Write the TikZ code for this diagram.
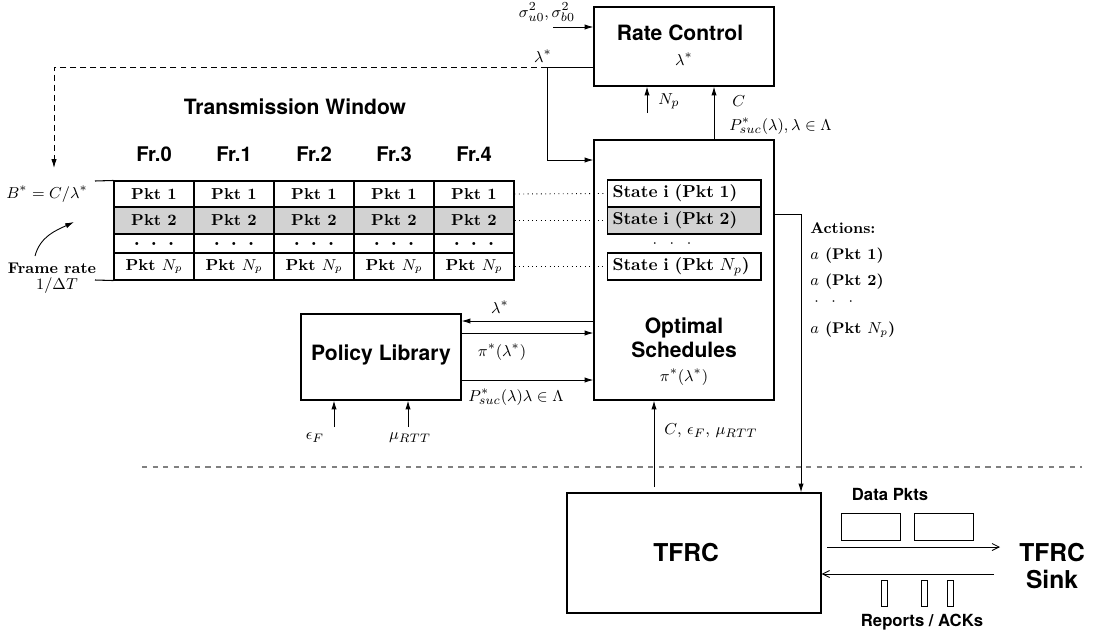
\documentclass[tikz,border=0pt]{standalone}
\usepackage{fontspec}
\newfontfamily\hvfont{TeX Gyre Heros}
\usetikzlibrary{arrows.meta}
\tikzset{
  blk/.style={draw,line width=0.7pt,inner sep=0pt},
  ttl/.style={font=\hvfont\bfseries\fontsize{12}{13.5}\selectfont},
  big/.style={font=\hvfont\bfseries\fontsize{14}{15.5}\selectfont},
  sml/.style={font=\hvfont\bfseries\fontsize{9.5}{11}\selectfont},
  cell/.style={draw,line width=0.6pt,minimum width=1.6cm,inner sep=0pt,font=\bfseries\fontsize{9}{10}\selectfont},
  stbox/.style={draw,line width=0.6pt,text width=2.86cm,inner xsep=0.11cm,inner ysep=0pt,minimum height=0.54cm,align=left,font=\bfseries\fontsize{9.8}{11}\selectfont},
  act/.style={anchor=west,font=\bfseries\fontsize{8.8}{10}\selectfont},
  dpkt/.style={draw,line width=0.5pt,minimum width=1.18cm,minimum height=0.54cm,inner sep=0pt},
  ack/.style={draw,line width=0.5pt,minimum width=0.12cm,minimum height=0.52cm,inner sep=0pt},
  data/.style={-{Straight Barb[length=4pt,width=4pt]},line width=0.5pt}
}
\begin{document}
\begin{tikzpicture}[x=0.02cm,y=-0.02cm,>={Latex[length=5pt,width=3pt]},line width=0.5pt,
  every node/.style={font=\fontsize{9.5}{11}\selectfont}]
\useasboundingbox (0,0) rectangle (1097,639);
% rate control block
\node[blk,minimum width=3.6cm,minimum height=1.58cm] (RC) at (684,46.5) {};
\node[ttl] (RCt) at (680,33) {Rate Control};
\node (RCl) at (684,59) {$\lambda^*$};
\coordinate (sg) at (553,27);
\node (sgl) at (547,12) {$\sigma^2_{u0},\sigma^2_{b0}$};
\draw[->] (sg) -- (sg -| RC.west);
\coordinate (lsp) at (547,67);
\node (lsl) at (543,56) {$\lambda^*$};
\coordinate (np) at (647,113);
\node[anchor=west] (npl) at (652,101) {$N_p$};
\coordinate (cx) at (714,113);
\node[anchor=west] (cl) at (726,101) {$C$};
\node[anchor=west] (pl) at (723,126) {$P^*_{suc}(\lambda),\lambda\in\Lambda$};
% optimal schedules
\node[blk,minimum width=3.6cm,minimum height=5.2cm] (OS) at (684,270) {};
\node[ttl,align=center] (OSt) at (684,338) {Optimal\\Schedules};
\node (OSl) at (684,377) {$\pi^*(\lambda^*)$};
\node[stbox] (st1) at (684,193.5) {State i (Pkt 1)};
\node[stbox,fill=gray!35] (st2) at (684,220.5) {State i (Pkt 2)};
\node (std) at (672,244) {$\cdot\;\;\cdot\;\;\cdot$};
\node[stbox] (stN) at (684,266.5) {State i (Pkt $N_p$)};
\draw[->] (np) -- (np |- RC.south);
\draw[->] (cx |- OS.north) -- (cx |- RC.south);
\draw (lsp -| RC.west) -- (lsp);
\coordinate (lsd) at (547,160);
\draw[->] (lsp) -- (lsd) -- (lsd -| OS.west);
\coordinate (bl) at (54,67);
\coordinate (bt) at (54,168);
\draw[->,dash pattern=on 3.4pt off 2.3pt] (lsp) -- (bl) -- (bt);
% actions
\coordinate (ao) at (801,214);
\node[act] (a0) at (804,228) {Actions:};
\node[act] (a1) at (804,256) {$a$ (Pkt 1)};
\node[act] (a2) at (804,282) {$a$ (Pkt 2)};
\node[act] (a3) at (808,302) {$\cdot\;\;\cdot\;\;\cdot$};
\node[act] (aN) at (804,330) {$a$ (Pkt $N_p$)};
% transmission window
\node[ttl] (tw) at (295,107) {Transmission Window};
\foreach \i in {0,...,4} {
  \node[ttl,font=\hvfont\bfseries\fontsize{11.5}{13}\selectfont] (fr\i) at (154+80*\i,154) {Fr.\i};
  \node[cell,minimum height=0.52cm] (p\i1) at (154+80*\i,194) {Pkt 1};
  \node[cell,minimum height=0.54cm,fill=gray!35] (p\i2) at (154+80*\i,220.5) {Pkt 2};
  \node[cell,minimum height=0.38cm,font=\bfseries\fontsize{12}{12}\selectfont] (p\i3) at (154+80*\i,243.5) {. . .};
  \node[cell,minimum height=0.54cm] (p\i4) at (154+80*\i,266.5) {Pkt $N_p$};
}
\coordinate (ttl0) at (95,181);
\coordinate (tbl0) at (95,280);
\draw[line width=0.6pt] (ttl0) -- (p01.north west);
\draw[line width=0.6pt] (tbl0) -- (p04.south west);
\draw[dotted] (p41.east) -- (st1.west);
\draw[dotted] (p42.east) -- (st2.west);
\draw[dotted] (p44.east) -- (stN.west);
% left labels
\node (bs) at (47,194) {$B^*=C/\lambda^*$};
\node[font=\bfseries\fontsize{8.8}{10}\selectfont] (frt) at (52,268) {Frame rate};
\node (dt) at (57,286) {$1/\Delta T$};
\coordinate (fa) at (35,256);
\coordinate (fb) at (74,222);
\draw[->] (fa) to[out=75,in=205] (fb);
% policy library
\node[blk,minimum width=3.2cm,minimum height=1.72cm] (PL) at (381,357) {};
\node[ttl] (PLt) at (381,355) {Policy Library};
\coordinate (y1) at (0,321);
\coordinate (y2) at (0,333);
\coordinate (y3) at (0,380);
\draw[->] (OS.west |- y1) -- (PL.east |- y1);
\draw[->] (PL.east |- y2) -- (OS.west |- y2);
\draw[->] (PL.east |- y3) -- (OS.west |- y3);
\node (l1) at (500,307) {$\lambda^*$};
\node (l2) at (502,352) {$\pi^*(\lambda^*)$};
\node (l3) at (516,397) {$P^*_{suc}(\lambda)\lambda\in\Lambda$};
\coordinate (ef) at (334,427);
\coordinate (mr) at (408,427);
\draw[->] (ef) -- (ef |- PL.south);
\draw[->] (mr) -- (mr |- PL.south);
\node (efl) at (315,438) {$\epsilon_F$};
\node (mrl) at (410,438) {$\mu_{RTT}$};
% TFRC
\draw[dash pattern=on 3pt off 3pt,gray,line width=0.6pt] (142,467) -- (1082,467);
\node[blk,minimum width=5.08cm,minimum height=2.4cm] (TF) at (694,553) {};
\node[big] (TFt) at (686,553) {TFRC};
\node[big,align=center] (snk) at (1052,566) {TFRC\\Sink};
\coordinate (ti) at (654,487);
\draw[->] (ti) -- (ti |- OS.south);
\node[anchor=west] (til) at (658,431) {$C$, $\epsilon_F$, $\mu_{RTT}$};
\draw[->] (ao -| OS.east) -- (ao) -- (ao |- TF.north);
\node[sml] (dpl) at (890,494) {Data Pkts};
\node[dpkt] (dp1) at (870.5,526.5) {};
\node[dpkt] (dp2) at (944,526.5) {};
\coordinate (d1) at (827,547);
\coordinate (d2) at (1000,547);
\draw[data] (d1) -- (d2);
\coordinate (r1) at (994,574);
\draw[data] (r1) -- (r1 -| TF.east);
\node[ack] (ak1) at (884,593) {};
\node[ack] (ak2) at (924,593) {};
\node[ack] (ak3) at (950.5,593) {};
\node[sml] (rpl) at (922,622) {Reports / ACKs};
\end{tikzpicture}
\end{document}
